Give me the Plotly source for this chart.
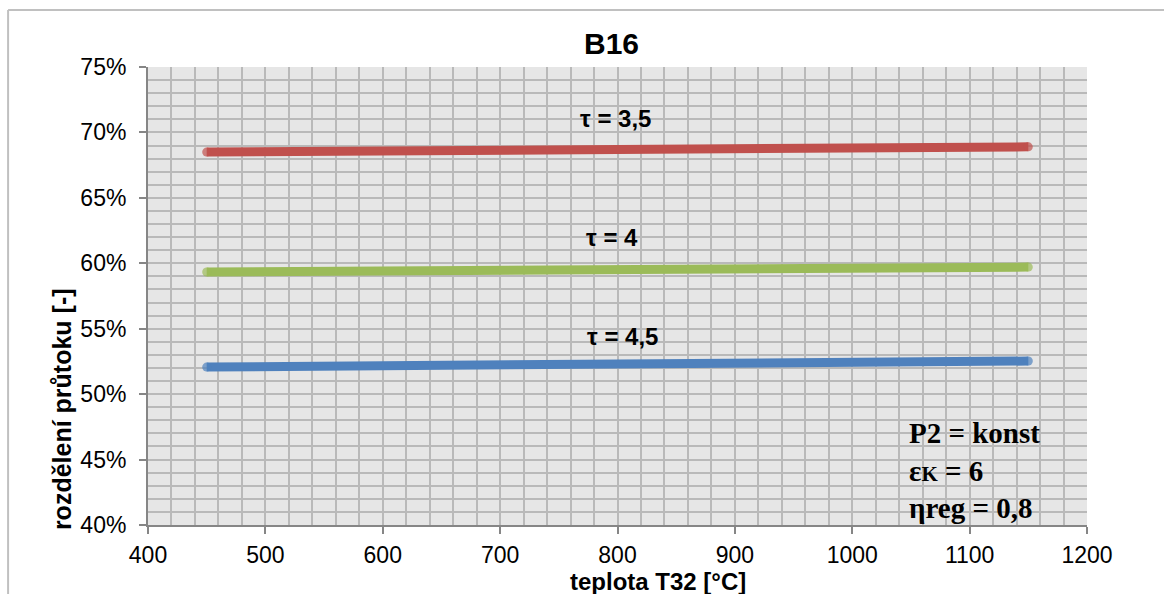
import plotly.graph_objects as go

# Data
temps = [450, 550, 650, 750, 850, 950, 1050, 1150]
tau_35 = [0.6850, 0.6855, 0.6860, 0.6866, 0.6872, 0.6878, 0.6884, 0.6890]
tau_40 = [0.5933, 0.5938, 0.5944, 0.5949, 0.5955, 0.5960, 0.5966, 0.5971]
tau_45 = [0.5207, 0.5213, 0.5220, 0.5227, 0.5233, 0.5240, 0.5246, 0.5253]
series_labels = ["τ = 3,5", "τ = 4", "τ = 4,5"]
label_x = [798, 795, 804]
label_y = [0.711, 0.620, 0.5444]
x_ticks = [400, 500, 600, 700, 800, 900, 1000, 1100, 1200]
y_ticks = [0.40, 0.45, 0.50, 0.55, 0.60, 0.65, 0.70, 0.75]

colors = ["#c0504d", "#9bbb59", "#4f81bd"]
LW = 9

fig = go.Figure()
for ys, c in zip([tau_35, tau_40, tau_45], colors):
    n = len(ys)
    sizes = [LW] + [0] * (n - 2) + [LW]
    fig.add_trace(go.Scatter(
        x=temps, y=ys, mode="lines+markers",
        line=dict(color=c, width=LW),
        marker=dict(size=sizes, color=c, line=dict(width=0)),
        showlegend=False, hoverinfo="skip",
    ))

SANS = "Liberation Sans"
annotations = []
for lab, lx, ly in zip(series_labels, label_x, label_y):
    annotations.append(dict(x=lx, y=ly, xref="x", yref="y", text=f"<b>{lab}</b>",
                            showarrow=False, font=dict(family=SANS, size=24, color="#000")))

annotations += [
    dict(x=0.494, y=1.052, xref="paper", yref="paper", xanchor="center", yanchor="middle",
         text="<b>B16</b>", showarrow=False,
         font=dict(family=SANS, size=30, color="#000")),
    dict(x=0.543, y=-0.124, xref="paper", yref="paper", xanchor="center", yanchor="middle",
         text="<b>teplota T32 [°C]</b>",
         showarrow=False, font=dict(family=SANS, size=24, color="#000")),
    dict(x=-0.0916, y=0.253, xref="paper", yref="paper", xanchor="center", yanchor="middle",
         text="<b>rozdělení průtoku [-]</b>",
         showarrow=False, textangle=-90, font=dict(family=SANS, size=25, color="#000")),
    dict(x=0.808, y=0.118, xref="paper", yref="paper", xanchor="left", yanchor="middle",
         align="left", showarrow=False,
         text="<b>P2 = konst</b><br><b>ε<span style='font-size:21px'>K</span> = 6</b><br><b>ηreg = 0,8</b>",
         font=dict(family="Liberation Serif", size=29, color="#000")),
]

grid_c = "#b9b9b9"
axis_c = "#868686"

fig.update_layout(
    width=1164, height=594,
    margin=dict(l=148, r=77, t=67, b=69),
    paper_bgcolor="white", plot_bgcolor="#e6e6e6",
    annotations=annotations,
    xaxis=dict(range=[400, 1200], tickvals=x_ticks, ticktext=[str(v) for v in x_ticks],
               showgrid=True, gridcolor=grid_c, gridwidth=2,
               minor=dict(dtick=20, tick0=400, showgrid=True, gridcolor=grid_c, gridwidth=2),
               showline=True, linecolor=axis_c, linewidth=2,
               ticks="outside", ticklen=7, tickcolor=axis_c, tickwidth=2,
               tickfont=dict(family=SANS, size=23, color="#000"),
               ticklabelstandoff=1, zeroline=False),
    yaxis=dict(range=[0.40, 0.75], tickvals=y_ticks, tickformat=".0%",
               showgrid=True, gridcolor=grid_c, gridwidth=2,
               minor=dict(dtick=0.01, tick0=0.40, showgrid=True, gridcolor=grid_c, gridwidth=2),
               showline=True, linecolor=axis_c, linewidth=2,
               ticks="outside", ticklen=7, tickcolor=axis_c, tickwidth=2,
               tickfont=dict(family=SANS, size=23, color="#000"),
               ticklabelstandoff=8, zeroline=False),
    shapes=[
        dict(type="line", xref="paper", yref="paper", x0=-0.149, x1=1.1, y0=1.1245, y1=1.1245,
             line=dict(color="#c0c0c0", width=2)),
        dict(type="line", xref="paper", yref="paper", x0=-0.149, x1=-0.149, y0=1.1245, y1=-0.2,
             line=dict(color="#c0c0c0", width=2)),
    ],
)

fig.write_html("out.html", config={"displayModeBar": False},
               post_script="document.body.style.margin='0';document.body.style.overflow='hidden';")
